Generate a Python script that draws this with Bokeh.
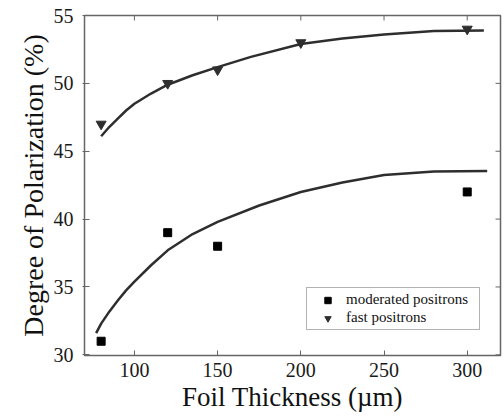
import math
from bokeh.plotting import figure
from bokeh.models import Range1d, Legend, LegendItem, FixedTicker
from bokeh.embed import file_html
from bokeh.resources import INLINE

# measured data points
thickness_mod = [80, 120, 150, 300]
pol_mod = [31, 39, 38, 42]
thickness_fast = [80, 120, 150, 200, 300]
pol_fast = [47, 50, 51, 53, 54]

# fitted curves
fit_fast_x = [80, 85, 90, 95, 100, 110, 120, 135, 150, 170, 200, 225, 250, 280, 310]
fit_fast_y = [46.1, 46.8, 47.4, 48.0, 48.5, 49.25, 49.9, 50.6, 51.2, 51.95, 52.9, 53.3, 53.6, 53.85, 53.9]
fit_mod_x = [77, 80, 85, 90, 95, 100, 110, 120, 135, 150, 175, 200, 225, 250, 280, 312]
fit_mod_y = [31.6, 32.3, 33.2, 34.0, 34.75, 35.4, 36.6, 37.7, 38.9, 39.8, 41.0, 42.0, 42.7, 43.25, 43.5, 43.55]

x_ticks = [100, 150, 200, 250, 300]
y_ticks = [30, 35, 40, 45, 50, 55]
x_min, x_max = 70, 320
y_min, y_max = 29.95, 55

FONT = "Liberation Serif"
DARK = "#2e2e2e"
GREY = "#666666"

p = figure(width=504, height=419, output_backend="svg", toolbar_location=None,
           x_range=Range1d(x_min, x_max), y_range=Range1d(y_min, y_max),
           min_border_left=84, min_border_right=4, min_border_top=15, min_border_bottom=64,
           background_fill_color="white", border_fill_color="white")
p.grid.visible = False
p.outline_line_color = GREY
p.outline_line_width = 1.5

for ax in (p.xaxis[0], p.yaxis[0]):
    ax.axis_line_color = None
    ax.major_tick_line_color = GREY
    ax.minor_tick_line_color = None
    ax.major_label_text_font = FONT
    ax.major_label_text_font_size = "20px"
    ax.major_label_text_color = "#1a1a1a"
    ax.axis_label_text_font = FONT
    ax.axis_label_text_font_style = "normal"
    ax.axis_label_text_color = "#111111"

p.xaxis.ticker = FixedTicker(ticks=x_ticks)
p.yaxis.ticker = FixedTicker(ticks=y_ticks)
p.xaxis.axis_label = "Foil Thickness (\u00b5m)"
p.yaxis.axis_label = "Degree of Polarization (%)"
p.xaxis.axis_label_text_font_size = "27px"
p.yaxis.axis_label_text_font_size = "28px"
p.xaxis.major_tick_in = 5
p.xaxis.major_tick_out = 0
p.xaxis.major_label_standoff = 7
p.xaxis.axis_label_standoff = 2
p.yaxis.major_tick_in = 5
p.yaxis.major_tick_out = 2
p.yaxis.major_label_standoff = 9
p.yaxis.axis_label_standoff = 2

# inward ticks on the top and right edges of the frame
p.ray(x=x_ticks, y=[y_max] * len(x_ticks), length=5, length_units="screen",
      angle=-math.pi / 2, line_color=GREY, line_width=1)
p.ray(x=[x_max] * len(y_ticks), y=y_ticks, length=5, length_units="screen",
      angle=math.pi, line_color=GREY, line_width=1)

p.line(fit_fast_x, fit_fast_y, line_color=DARK, line_width=2.5)
p.line(fit_mod_x, fit_mod_y, line_color=DARK, line_width=2.5)

sq = p.scatter(thickness_mod, pol_mod, marker="square", size=8, fill_color="black", line_color="black")
tri = p.scatter(thickness_fast, pol_fast, marker="inverted_triangle", size=10, fill_color=DARK, line_color=DARK)

legend = Legend(items=[LegendItem(label="moderated positrons", renderers=[sq]),
                       LegendItem(label="fast positrons", renderers=[tri])],
                location=(222, 25), padding=3, spacing=1, label_height=16, glyph_height=16,
                glyph_width=35, label_standoff=1, label_width=130, margin=0,
                label_text_font=FONT, label_text_font_size="15px", label_text_color="#111111",
                border_line_color=GREY, border_line_width=1.2, background_fill_alpha=1)
p.add_layout(legend, "center")

open("out.html", "w").write(file_html(p, INLINE))
